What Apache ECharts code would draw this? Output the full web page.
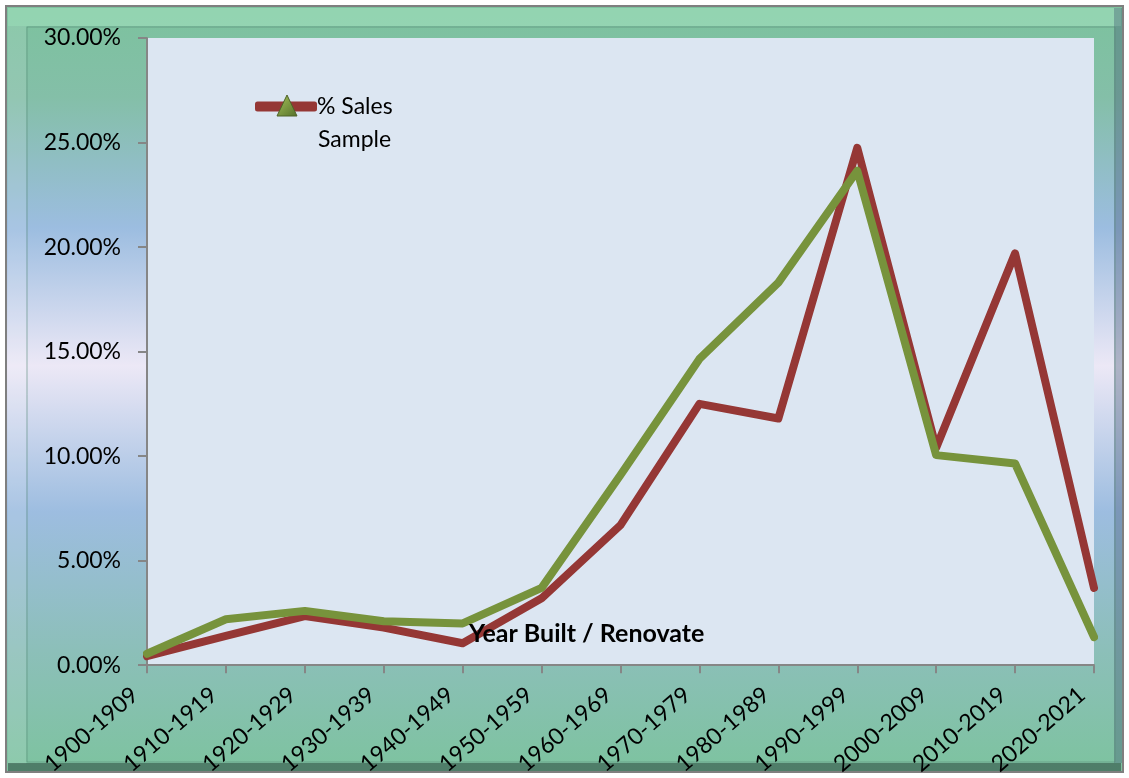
<!DOCTYPE html>
<html>
<head>
<meta charset="utf-8">
<script src="https://cdn.jsdelivr.net/npm/echarts@6/dist/echarts.min.js"></script>
<style>
  html, body { margin: 0; padding: 0; background: #fff; }
  #grafica { width: 1129px; height: 778px; }
</style>
</head>
<body>
<div id="grafica"></div>
<script>
let categorias = ['1900-1909', '1910-1919', '1920-1929', '1930-1939', '1940-1949', '1950-1959',
  '1960-1969', '1970-1979', '1980-1989', '1990-1999', '2000-2009', '2010-2019', '2020-2021'];
let ventas = [0.43, 1.4, 2.35, 1.8, 1.05, 3.2, 6.7, 12.5, 11.8, 24.75, 10.4, 19.7, 3.7];
let muestra = [0.55, 2.2, 2.6, 2.1, 2.0, 3.7, 9.1, 14.65, 18.3, 23.65, 10.05, 9.65, 1.35];
let ticksY = [0, 5, 10, 15, 20, 25, 30];

let fuente = 'Lato, "Open Sans", sans-serif';

let chartDom = document.getElementById('grafica');
let myChart = echarts.init(chartDom, null, { renderer: 'canvas' });

let fondo = new echarts.graphic.LinearGradient(0, 0, 0, 1, [
  { offset: 0, color: '#7cc29e' },
  { offset: 0.12, color: '#84bfa8' },
  { offset: 0.29, color: '#9cbde0' },
  { offset: 0.47, color: '#ece8f6' },
  { offset: 0.66, color: '#9dbde0' },
  { offset: 0.84, color: '#8cbfb9' },
  { offset: 1, color: '#7dc39f' }
]);

let option = {
  animation: false,
  graphic: [
    { type: 'rect', z: -10, shape: { x: 6, y: 6, width: 1117, height: 766 },
      style: { fill: fondo, stroke: '#7f7f7f', lineWidth: 2 } },
    { type: 'rect', z: -9, shape: { x: 8, y: 8, width: 1113, height: 18 },
      style: { fill: 'rgba(175,235,200,0.45)' } },
    { type: 'rect', z: -9, shape: { x: 8, y: 26, width: 18, height: 738 },
      style: { fill: 'rgba(255,255,255,0.12)' } },
    { type: 'rect', z: -9, shape: { x: 8, y: 763, width: 1113, height: 8 },
      style: { fill: 'rgba(40,70,60,0.55)' } },
    { type: 'rect', z: -9, shape: { x: 1114, y: 8, width: 8, height: 755 },
      style: { fill: 'rgba(60,80,110,0.35)' } },
    { type: 'rect', z: -8, shape: { x: 27, y: 27, width: 1088, height: 735 },
      style: { fill: 'none', stroke: 'rgba(90,140,120,0.6)', lineWidth: 1 } },
    { type: 'rect', z: -8, shape: { x: 147, y: 38, width: 947, height: 628 },
      style: { fill: '#dce6f2' } },
    { type: 'polygon', z: 50, shape: { points: [[287, 95], [277, 116], [297, 116]] },
      style: { fill: new echarts.graphic.LinearGradient(0, 0, 1, 1, [
        { offset: 0, color: '#a6c35a' }, { offset: 1, color: '#55702a' }]),
        stroke: '#4f6228', lineWidth: 1 } },
    { type: 'text', z: 50, left: 318, top: 128,
      style: { text: 'Sample', fontFamily: fuente, fontSize: 23, fill: '#000' } }
  ],
  title: {
    text: 'Year Built / Renovate',
    left: 464, top: 616,
    textStyle: { fontFamily: fuente, fontSize: 25, fontWeight: 'bold', color: '#000' }
  },
  legend: {
    data: ['% Sales Sample'],
    formatter: () => '% Sales',
    left: 255, top: 95,
    padding: 0,
    icon: 'roundRect',
    itemWidth: 62, itemHeight: 10,
    textStyle: { fontFamily: fuente, fontSize: 23, color: '#000', padding: [0, 0, 0, -5] }
  },
  grid: { left: 147, right: 35, top: 38, bottom: 112 },
  xAxis: {
    type: 'category',
    data: categorias,
    boundaryGap: false,
    axisLine: { lineStyle: { color: '#868686', width: 2 } },
    axisTick: { show: true, length: 8, lineStyle: { color: '#868686', width: 2 } },
    axisLabel: {
      rotate: 41, interval: 0, margin: 16,
      padding: [0, 16, 0, 0],
      fontFamily: fuente, fontSize: 23, color: '#000'
    }
  },
  yAxis: {
    type: 'value',
    min: 0, max: 30, interval: 5,
    axisLine: { show: true, lineStyle: { color: '#868686', width: 2 } },
    axisTick: { show: true, length: 9, lineStyle: { color: '#868686', width: 2 } },
    splitLine: { show: false },
    axisLabel: {
      margin: 26,
      fontFamily: fuente, fontSize: 23, color: '#000',
      formatter: v => ticksY.includes(v) ? v.toFixed(2) + '%' : ''
    }
  },
  series: [
    {
      name: '% Sales Sample',
      type: 'line',
      data: ventas,
      showSymbol: false,
      symbol: 'none',
      itemStyle: { color: '#953735' },
      lineStyle: { color: '#953735', width: 8, cap: 'round', join: 'round' },
      z: 3
    },
    {
      name: 'Muestra',
      type: 'line',
      data: muestra,
      showSymbol: false,
      symbol: 'none',
      itemStyle: { color: '#77933c' },
      lineStyle: { color: '#77933c', width: 8, cap: 'round', join: 'round' },
      z: 4
    }
  ]
};

myChart.setOption(option);
</script>
</body>
</html>
